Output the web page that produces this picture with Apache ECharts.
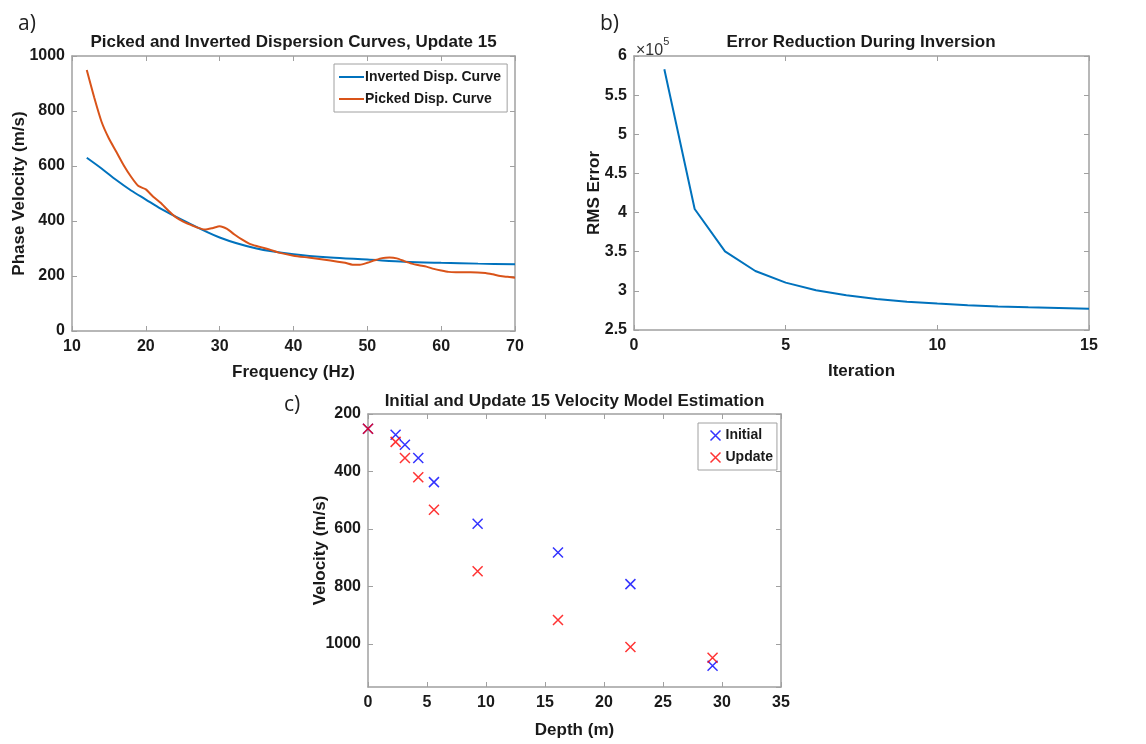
<!DOCTYPE html>
<html>
<head>
<meta charset="utf-8">
<script src="https://cdn.jsdelivr.net/npm/echarts@6/dist/echarts.min.js"></script>
<style>html,body{margin:0;padding:0;background:#fff}#c{width:1146px;height:744px}</style>
</head>
<body>
<div id="c"></div>
<script>
// Panel a: dispersion curves
const freqInv = [12,14,16,18,20,22,25,30,35,40,45,50,55,60,65,70];
const velInv  = [630,591,549,511,478,445,403,340,300,279,267,260,252,248,245,243];
const freqPick = [12,13,14,15,16,17,18,19,20,21,22,23,24,25,26,27,28,29,30,31,32,33,34,35,36,37,38,40,42,44,46,47,48,49,50,51,52,53,54,55,56,57,58,59,60,61,62,64,66,67,68,69,70];
const velPick  = [949,850,761,700,652,603,561,527,515,488,466,439,415,399,387,376,369,374,381,371,351,333,318,309,302,294,285,274,267,260,252,248,241,241,248,257,265,267,264,254,245,239,234,226,220,215,214,214,211,206,200,197,194];
// Panel b: RMS error per iteration
const iterations = [1,2,3,4,5,6,7,8,9,10,11,12,13,14,15];
const rmsError = [583000,404600,350500,325400,310500,300700,294300,289700,286200,283700,281500,280000,279000,278200,277300];
// Panel c: velocity models
const depth = [0,2.34,3.13,4.26,5.59,9.29,16.1,22.24,29.2];
const velInitial = [251,272,307,353,437,582,682,792,1076];
const velUpdate  = [251,297,353,420,533,747,917,1011,1048];

const FONT = 'Liberation Sans, Arial, sans-serif';
const BOX = '#a0a0a0';
const TXT = '#1a1a1a';
const grids = [
  {left:72, top:56, width:443, height:275},
  {left:634, top:56, width:455, height:274},
  {left:368, top:414, width:413, height:273}
];
function xAx(gi, min, max, interval, name, gap){
  return [{
    gridIndex: gi, type:'value', min, max, interval, position:'bottom',
    name, nameLocation:'middle', nameGap: gap, nameMoveOverlap:false,
    nameTextStyle:{fontFamily:FONT, fontWeight:'bold', fontSize:17, color:TXT},
    axisLine:{show:true, onZero:false, lineStyle:{color:BOX, width:1.5}},
    axisTick:{show:true, inside:true, length:5, lineStyle:{color:BOX}},
    axisLabel:{fontFamily:FONT, fontWeight:'bold', fontSize:16, color:TXT, margin:8, formatter: v => String(v)},
    splitLine:{show:false}
  },{
    gridIndex: gi, type:'value', min, max, interval, position:'top',
    axisLine:{show:true, onZero:false, lineStyle:{color:BOX, width:1.5}},
    axisTick:{show:true, inside:true, length:5, lineStyle:{color:BOX}},
    axisLabel:{show:false}, splitLine:{show:false}
  }];
}
function yAx(gi, min, max, interval, name, gap, fmt, inverse){
  return [{
    gridIndex: gi, type:'value', min, max, interval, position:'left', inverse: !!inverse,
    name, nameLocation:'middle', nameGap: gap, nameMoveOverlap:false,
    nameTextStyle:{fontFamily:FONT, fontWeight:'bold', fontSize:17, color:TXT},
    axisLine:{show:true, onZero:false, lineStyle:{color:BOX, width:1.5}},
    axisTick:{show:true, inside:true, length:5, lineStyle:{color:BOX}},
    axisLabel:{fontFamily:FONT, fontWeight:'bold', fontSize:16, color:TXT, margin:7, formatter: fmt, showMaxLabel: inverse ? false : true},
    splitLine:{show:false}
  },{
    gridIndex: gi, type:'value', min, max, interval, position:'right', inverse: !!inverse,
    axisLine:{show:true, onZero:false, lineStyle:{color:BOX, width:1.5}},
    axisTick:{show:true, inside:true, length:5, lineStyle:{color:BOX}},
    axisLabel:{show:false}, splitLine:{show:false}
  }];
}
const crossPath = 'path://M0,0L10,10M0,10L10,0';
const chart = echarts.init(document.getElementById('c'), null, {renderer:'canvas'});
const option = {
  animation:false,
  backgroundColor:'#fff',
  grid: grids,
  xAxis: [].concat(
    xAx(0,10,70,10,'Frequency (Hz)',33),
    xAx(1,0,15,5,'Iteration',33),
    xAx(2,0,35,5,'Depth (m)',35)
  ),
  yAxis: [].concat(
    yAx(0,0,1000,200,'Phase Velocity (m/s)',44, v => String(v)),
    yAx(1,250000,600000,50000,'RMS Error',31, v => String(v/1e5)),
    yAx(2,200,1150,200,'Velocity (m/s)',39, v => (v % 200 === 0 ? String(v) : ''), true)
  ),
  legend: [{
    orient:'vertical', left:334, top:64, itemWidth:25, itemHeight:2, itemGap:8,
    padding:[6,6,6,4], borderColor:BOX, borderWidth:1, backgroundColor:'#fff',
    textStyle:{fontFamily:FONT, fontWeight:'bold', fontSize:14, color:TXT, padding:[0,0,0,-4]},
    data:['Inverted Disp. Curve','Picked Disp. Curve']
  },{
    orient:'vertical', left:698, top:423, itemWidth:10, itemHeight:10, itemGap:7,
    padding:[5,4,5,10], borderColor:BOX, borderWidth:1, backgroundColor:'#fff',
    textStyle:{fontFamily:FONT, fontWeight:'bold', fontSize:14, color:TXT},
    data:[
      {name:'Initial', icon:crossPath, itemStyle:{color:'none', borderColor:'#0000ff', borderWidth:1.5}},
      {name:'Update', icon:crossPath, itemStyle:{color:'none', borderColor:'#ff0000', borderWidth:1.5}}
    ]
  }],
  graphic: [
    {type:'text', x:18, y:24, style:{text:'a)', font:'21px "Open Sans", sans-serif', fill:'#222', textVerticalAlign:'middle'}},
    {type:'text', x:600, y:24, style:{text:'b)', font:'21px "Open Sans", sans-serif', fill:'#222', textVerticalAlign:'middle'}},
    {type:'text', x:284, y:405, style:{text:'c)', font:'21px "Open Sans", sans-serif', fill:'#222', textVerticalAlign:'middle'}},
    {type:'text', x:293.5, y:42, style:{text:'Picked and Inverted Dispersion Curves, Update 15', font:'bold 17px '+FONT, fill:TXT, textAlign:'center', textVerticalAlign:'middle'}},
    {type:'text', x:861, y:42, style:{text:'Error Reduction During Inversion', font:'bold 17px '+FONT, fill:TXT, textAlign:'center', textVerticalAlign:'middle'}},
    {type:'text', x:574.5, y:401, style:{text:'Initial and Update 15 Velocity Model Estimation', font:'bold 17px '+FONT, fill:TXT, textAlign:'center', textVerticalAlign:'middle'}},
    {type:'text', x:636, y:36, style:{text:'{a|×10}{b|5}', rich:{a:{font:'16px '+FONT, fill:'#333', padding:[7,0,0,0]}, b:{font:'11px '+FONT, fill:'#333', verticalAlign:'top'}}}}
  ],
  series: [
    {name:'Inverted Disp. Curve', type:'line', xAxisIndex:0, yAxisIndex:0, showSymbol:false, symbol:'none',
     data: freqInv.map((f,i)=>[f, velInv[i]]), smooth:0.3, lineStyle:{color:'#0072BD', width:2}, itemStyle:{color:'#0072BD'}},
    {name:'Picked Disp. Curve', type:'line', xAxisIndex:0, yAxisIndex:0, showSymbol:false, symbol:'none',
     data: freqPick.map((f,i)=>[f, velPick[i]]), smooth:0.2, lineStyle:{color:'#D95319', width:2}, itemStyle:{color:'#D95319'}},
    {name:'RMS', type:'line', xAxisIndex:2, yAxisIndex:2, showSymbol:false, symbol:'none',
     data: iterations.map((it,i)=>[it, rmsError[i]]), lineStyle:{color:'#0072BD', width:2}},
    {name:'Initial', type:'scatter', xAxisIndex:4, yAxisIndex:4, symbol:crossPath, symbolSize:10,
     data: depth.map((d,i)=>[d, velInitial[i]]), itemStyle:{color:'none', borderColor:'#0000ff', borderWidth:1.5}},
    {name:'Update', type:'scatter', xAxisIndex:4, yAxisIndex:4, symbol:crossPath, symbolSize:10,
     data: depth.map((d,i)=>[d, velUpdate[i]]), itemStyle:{color:'none', borderColor:'#ff0000', borderWidth:1.5}}
  ]
};
chart.setOption(option);
</script>
</body>
</html>
